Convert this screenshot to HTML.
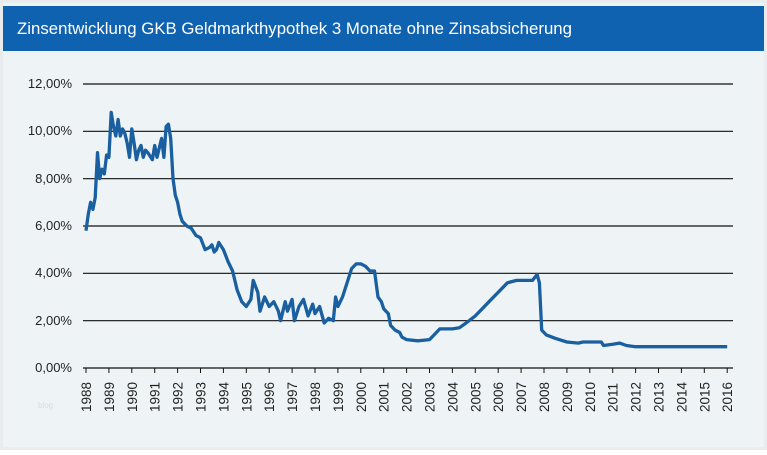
<!DOCTYPE html><html><head><style>
body{margin:0;width:767px;height:450px;background:#fff;font-family:"Liberation Sans",sans-serif;overflow:hidden}
</style></head><body>
<svg width="767" height="450" xmlns="http://www.w3.org/2000/svg">
<rect x="0" y="0" width="767" height="450" fill="#e8ecec"/>
<rect x="3" y="3" width="761" height="444" fill="#eef4f6"/>
<rect x="3" y="6" width="761" height="45" fill="#0f62b0"/>
<text x="17" y="34" fill="#fff" font-size="17" font-family="Liberation Sans,sans-serif" textLength="555" lengthAdjust="spacingAndGlyphs">Zinsentwicklung GKB Geldmarkthypothek 3 Monate ohne Zinsabsicherung</text>
<g stroke="#111" stroke-width="1.2">
<line x1="83" y1="84" x2="733" y2="84"/><line x1="83" y1="131.3" x2="733" y2="131.3"/>
<line x1="83" y1="178.7" x2="733" y2="178.7"/><line x1="83" y1="226" x2="733" y2="226"/>
<line x1="83" y1="273.3" x2="733" y2="273.3"/><line x1="83" y1="320.7" x2="733" y2="320.7"/>
<line x1="83" y1="368" x2="733" y2="368"/>
</g>
<g font-size="13" fill="#222" text-anchor="end">
<text x="72" y="88">12,00%</text><text x="72" y="135">10,00%</text><text x="72" y="183">8,00%</text>
<text x="72" y="230">6,00%</text><text x="72" y="277">4,00%</text><text x="72" y="325">2,00%</text><text x="72" y="372">0,00%</text>
</g>
<g id="ticks" stroke="#111" stroke-width="1"></g>
<g id="labels" font-size="13.5" fill="#222"></g>
<text x="38" y="408" font-size="8" fill="#d8dde0">blog</text>
<polyline id="ln" fill="none" stroke="#1a5fa0" stroke-width="3.3" stroke-linejoin="round"/>
</svg>
<script>
var t=document.getElementById('ticks'),l=document.getElementById('labels'),ns="http://www.w3.org/2000/svg";
for(var y=1988;y<=2016;y++){var x=86+(y-1988)*22.9;
var e=document.createElementNS(ns,'line');e.setAttribute('x1',x);e.setAttribute('x2',x);e.setAttribute('y1',368);e.setAttribute('y2',373);t.appendChild(e);
var s=document.createElementNS(ns,'text');s.setAttribute('transform','translate('+(x+5)+',412) rotate(-90)');s.textContent=y;l.appendChild(s);}
var d=[1988.0,5.8,1988.1,6.5,1988.2,7.0,1988.3,6.7,1988.4,7.2,1988.5,9.1,1988.6,8.0,1988.7,8.4,1988.8,8.2,1988.9,9.0,1989.0,8.9,1989.1,10.8,1989.2,10.2,1989.3,9.8,1989.4,10.5,1989.5,9.8,1989.6,10.1,1989.7,9.9,1989.8,9.5,1989.9,8.9,1990.0,10.1,1990.1,9.5,1990.2,8.8,1990.3,9.2,1990.4,9.4,1990.5,8.9,1990.6,9.2,1990.7,9.1,1990.9,8.8,1991.0,9.4,1991.1,8.9,1991.3,9.7,1991.4,8.9,1991.5,10.2,1991.6,10.3,1991.7,9.7,1991.8,8.0,1991.9,7.3,1992.0,7.0,1992.1,6.5,1992.2,6.2,1992.4,6.0,1992.6,5.9,1992.8,5.6,1993.0,5.5,1993.2,5.0,1993.4,5.1,1993.5,5.2,1993.6,4.9,1993.7,5.0,1993.8,5.3,1994.0,5.0,1994.2,4.5,1994.4,4.1,1994.6,3.3,1994.8,2.8,1995.0,2.6,1995.2,2.9,1995.3,3.7,1995.5,3.2,1995.6,2.4,1995.8,3.0,1996.0,2.6,1996.2,2.8,1996.4,2.4,1996.5,2.0,1996.7,2.8,1996.8,2.4,1997.0,2.9,1997.1,2.0,1997.3,2.6,1997.5,2.9,1997.7,2.2,1997.9,2.7,1998.0,2.3,1998.2,2.6,1998.4,1.9,1998.6,2.1,1998.8,2.0,1998.9,3.0,1999.0,2.6,1999.2,3.0,1999.4,3.6,1999.6,4.2,1999.8,4.4,2000.0,4.4,2000.2,4.3,2000.4,4.1,2000.6,4.1,2000.75,3.0,2000.9,2.8,2001.0,2.5,2001.2,2.3,2001.3,1.8,2001.5,1.6,2001.7,1.5,2001.8,1.3,2002.0,1.2,2002.5,1.15,2003.0,1.2,2003.2,1.4,2003.45,1.65,2004.0,1.65,2004.3,1.7,2004.6,1.9,2005.0,2.2,2005.3,2.5,2005.6,2.8,2006.0,3.2,2006.4,3.6,2006.8,3.7,2007.2,3.7,2007.5,3.7,2007.7,3.95,2007.8,3.6,2007.9,1.6,2008.1,1.4,2008.5,1.25,2009.0,1.1,2009.5,1.05,2009.7,1.1,2010.5,1.1,2010.6,0.95,2011.0,1.0,2011.3,1.05,2011.6,0.95,2012.0,0.9,2016,0.9];
var p=[];for(var i=0;i<d.length;i+=2){p.push((86+(d[i]-1988)*22.9).toFixed(1)+','+(368-d[i+1]*23.67).toFixed(1));}
document.getElementById('ln').setAttribute('points',p.join(' '));
</script>
</body></html>
